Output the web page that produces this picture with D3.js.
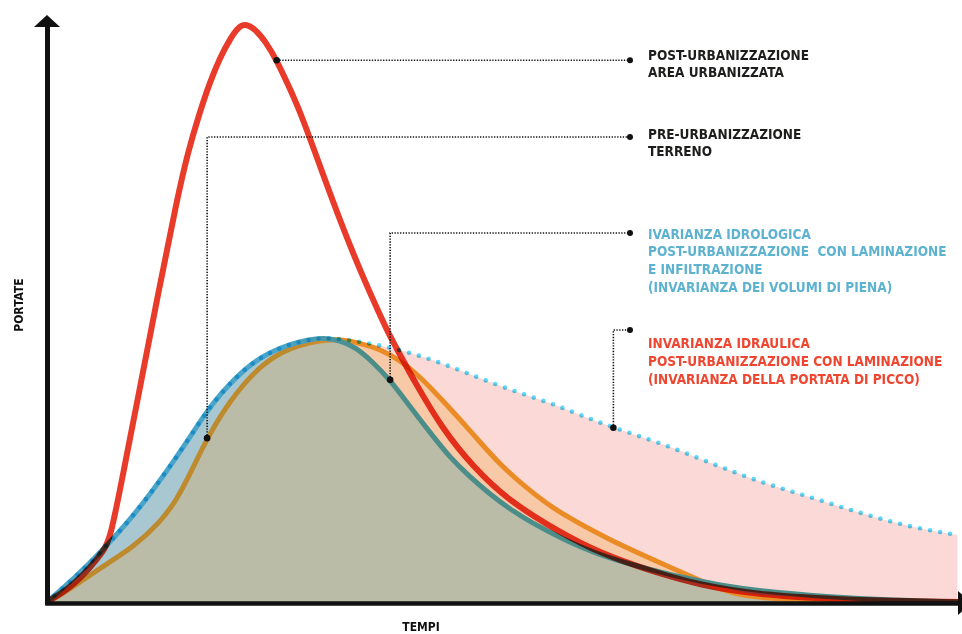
<!DOCTYPE html>
<html>
<head>
<meta charset="utf-8">
<script src="https://cdn.jsdelivr.net/npm/d3@7"></script>
<style>
  body { margin: 0; background: #fff; }
  svg { display: block; background: #fff; }
  text { font-family: "DejaVu Sans Condensed", "DejaVu Sans", sans-serif; font-weight: bold; }
</style>
</head>
<body>
<svg id="chart"></svg>
<script>
// hydrographs: time (arbitrary units 0-100) and discharge (% of post-urban peak)
const postUrbT = [0, 2.5, 4.7, 6.1, 6.9, 8.4, 9.9, 12.0, 14.2, 15.4, 16.7, 17.8, 18.9, 20.0, 21.3, 22.7, 23.9, 25.1, 26.3, 27.7, 29.8, 32.0, 34.2, 36.4, 37.4, 38.6, 40.2, 43.3, 46.6, 50.3, 56.1, 60.4, 65.9, 71.4, 77.9, 87.8, 100];
const postUrbQ = [0, 2.4, 5.9, 8.7, 10.7, 22.9, 35.0, 52.3, 69.7, 78.0, 84.9, 90.1, 94.3, 97.6, 100.6, 99.4, 97.1, 93.9, 89.8, 84.9, 75.7, 66.2, 57.5, 49.7, 46.3, 42.8, 38.1, 29.8, 23.4, 17.7, 12.0, 8.5, 5.4, 2.9, 1.2, 0.3, 0];

const preUrbT = [0, 2.0, 3.9, 6.7, 9.4, 12.3, 14.2, 16.0, 17.5, 20.0, 23.3, 26.6, 29.8, 31.7, 34.2, 36.4, 38.6, 40.8, 43.2, 46.7, 49.5, 53.6, 56.1, 61.5, 67.0, 72.5, 75.7, 81.5, 100];
const preUrbQ = [0, 1.7, 3.8, 6.8, 9.5, 13.7, 17.7, 23.4, 28.4, 35.0, 41.1, 44.2, 45.3, 45.6, 44.9, 43.8, 41.9, 39.0, 35.0, 28.9, 23.7, 18.2, 15.4, 10.7, 6.8, 2.9, 1.0, 0.3, 0];

const idrologicaT = [0, 3.1, 5.8, 8.9, 11.6, 13.8, 15.3, 16.7, 18.1, 20.0, 22.2, 24.4, 26.6, 28.7, 30.2, 32.0, 33.7, 35.6, 37.5, 39.7, 41.9, 44.0, 46.2, 48.4, 50.6, 52.8, 56.1, 60.4, 64.8, 69.2, 73.6, 77.9, 85.2, 92.5, 100];
const idrologicaQ = [0, 4.3, 8.5, 13.9, 19.4, 24.3, 27.8, 31.2, 34.4, 37.9, 41.2, 43.3, 44.7, 45.5, 45.8, 45.3, 44.2, 41.6, 38.5, 33.8, 29.3, 25.1, 21.7, 18.7, 16.1, 13.9, 11.1, 8.1, 6.1, 4.3, 2.9, 1.9, 0.9, 0.3, 0];

const idraulicaT = [0, 3.1, 5.8, 8.9, 11.6, 13.8, 15.3, 16.7, 18.1, 20.0, 22.2, 24.4, 26.6, 28.7, 30.2, 32.6, 35.0, 38.4, 41.9, 45.1, 48.4, 51.7, 55.0, 58.3, 61.9, 67.0, 72.5, 77.9, 83.4, 88.9, 94.3, 99.5];
const idraulicaQ = [0, 4.3, 8.5, 13.9, 19.4, 24.3, 27.8, 31.2, 34.4, 37.9, 41.2, 43.3, 44.7, 45.5, 45.8, 45.5, 44.9, 43.8, 42.1, 40.2, 38.1, 36.2, 34.5, 32.4, 30.2, 27.6, 24.1, 20.8, 18.2, 15.4, 13.0, 11.6];

// labels and the time of the point each leader line starts from
const labelLines = [
  ["POST-URBANIZZAZIONE", "AREA URBANIZZATA"],
  ["PRE-URBANIZZAZIONE", "TERRENO"],
  ["IVARIANZA IDROLOGICA", "POST-URBANIZZAZIONE  CON LAMINAZIONE", "E INFILTRAZIONE", "(INVARIANZA DEI VOLUMI DI PIENA)"],
  ["INVARIANZA IDRAULICA", "POST-URBANIZZAZIONE CON LAMINAZIONE", "(INVARIANZA DELLA PORTATA DI PICCO)"]
];
const anchorTimes = [25.1, 17.5, 37.5, 61.9];

const xTitle = "TEMPI";
const yTitle = "PORTATE";

const width = 962, height = 634;

const svg = d3.select('#chart')
  .attr('width', width)
  .attr('height', height);

const x = d3.scaleLinear().domain([0, 100]).range([47, 962]);
const y = d3.scaleLinear().domain([0, 100]).range([602, 25]);

const toPts = (ts, qs) => ts.map((t, i) => ({t, q: qs[i]}));
const postUrb = toPts(postUrbT, postUrbQ);
const preUrb = toPts(preUrbT, preUrbQ);
const idrologica = toPts(idrologicaT, idrologicaQ);
const idraulica = toPts(idraulicaT, idraulicaQ);

const line = d3.line().x(d => x(d.t)).y(d => y(d.q)).curve(d3.curveBasis);
const area = d3.area().x(d => x(d.t)).y0(y(0)).y1(d => y(d.q)).curve(d3.curveBasis);

const defs = svg.append('defs');
defs.append('clipPath').attr('id', 'under-idrologica')
  .append('path').attr('d', area(idrologica));

function grad(id, t0, t1, c0, c1) {
  const g = defs.append('linearGradient').attr('id', id)
    .attr('gradientUnits', 'userSpaceOnUse')
    .attr('x1', x(t0)).attr('x2', x(t1)).attr('y1', 0).attr('y2', 0);
  g.append('stop').attr('offset', 0).attr('stop-color', c0);
  g.append('stop').attr('offset', 1).attr('stop-color', c1);
}
grad('teal-grad', 26, 34, '#4aa5c8', '#4b8d89');
grad('orange-grad', 27, 33, '#bd8a2e', '#ea8b25');

// filled areas, back to front
svg.append('path').attr('d', area(idraulica)).attr('fill', '#fad9d6');
svg.append('path').attr('d', area(idrologica)).attr('fill', '#a9c7d1');
svg.append('path').attr('d', area(preUrb)).attr('fill', '#f8c9a7');
svg.append('path').attr('d', area(preUrb)).attr('fill', '#babca7')
  .attr('clip-path', 'url(#under-idrologica)');

// curves
svg.append('path').attr('d', line(preUrb))
  .attr('fill', 'none').attr('stroke', 'url(#orange-grad)').attr('stroke-width', 5);
svg.append('path').attr('d', line(idrologica))
  .attr('fill', 'none').attr('stroke', 'url(#teal-grad)').attr('stroke-width', 5);
svg.append('path').attr('d', line(postUrb))
  .attr('fill', 'none').attr('stroke', '#e93b2a').attr('stroke-width', 6)
  .style('mix-blend-mode', 'multiply');
svg.append('path').attr('d', line(idraulica))
  .attr('fill', 'none').attr('stroke', '#5cd9ff').attr('stroke-width', 4.6)
  .attr('stroke-linecap', 'round').attr('stroke-dasharray', '0 10.2')
  .style('mix-blend-mode', 'multiply');

// leader lines
const seriesList = [postUrb, preUrb, idrologica, idraulica];
const labelDotX = 630;
const labelDotY = [null, 137, 233, 330];
const baselines = [59.5, 138.5, 238.5, 348];
const labelColors = ['#1d1d1b', '#1d1d1b', '#5db3cf', '#ee4630'];

seriesList.forEach((s, k) => {
  const p = s.find(d => d.t === anchorTimes[k]);
  const ax = x(p.t), ay = y(p.q);
  const ly = labelDotY[k] === null ? ay : labelDotY[k];
  const d = labelDotY[k] === null ? `M${ax},${ay}H${labelDotX}` : `M${ax},${ay}V${ly}H${labelDotX}`;
  svg.append('path').attr('d', d)
    .attr('fill', 'none').attr('stroke', '#111').attr('stroke-width', 1.6)
    .attr('stroke-dasharray', '1.3 1.5');
  svg.append('circle').attr('cx', ax).attr('cy', ay).attr('r', 3.3).attr('fill', '#111');
  svg.append('circle').attr('cx', labelDotX).attr('cy', ly).attr('r', 3).attr('fill', '#111');

  const t = svg.append('text')
    .attr('x', 648).attr('y', baselines[k])
    .attr('font-size', 13.5).attr('fill', labelColors[k])
    .style('white-space', 'pre');
  labelLines[k].forEach((txt, j) => {
    t.append('tspan').attr('x', 648).attr('dy', j === 0 ? 0 : 17.8).text(txt);
  });
});

// axes
const xAxisG = svg.append('g')
  .attr('transform', `translate(0,${y(0) + 1})`)
  .call(d3.axisBottom(x).tickValues([]).tickSizeOuter(0));
const yAxisG = svg.append('g')
  .attr('transform', `translate(${x(0)},0)`)
  .call(d3.axisLeft(y).tickValues([]).tickSizeOuter(0));
[xAxisG, yAxisG].forEach(g => g.select('.domain')
  .attr('stroke', '#111').attr('stroke-linecap', 'square'));
xAxisG.select('.domain').attr('stroke-width', 4.5);
yAxisG.select('.domain').attr('stroke-width', 5);

// arrow heads
const yTop = y(100);
svg.append('path')
  .attr('d', `M${x(0)},${yTop - 10}L${x(0) - 13},${yTop + 2}L${x(0) + 13},${yTop + 2}Z`)
  .attr('fill', '#111');
const xEnd = x(100);
svg.append('path')
  .attr('d', `M${xEnd - 4},${y(0) - 11}L${xEnd + 10},${y(0) + 1}L${xEnd - 4},${y(0) + 13}Z`)
  .attr('fill', '#111');

// axis titles
svg.append('text')
  .attr('transform', 'translate(23,305) rotate(-90)')
  .attr('text-anchor', 'middle').attr('font-size', 12).attr('fill', '#111')
  .text(yTitle);
svg.append('text')
  .attr('x', 421).attr('y', 631)
  .attr('text-anchor', 'middle').attr('font-size', 12).attr('fill', '#111')
  .text(xTitle);
</script>
</body>
</html>
